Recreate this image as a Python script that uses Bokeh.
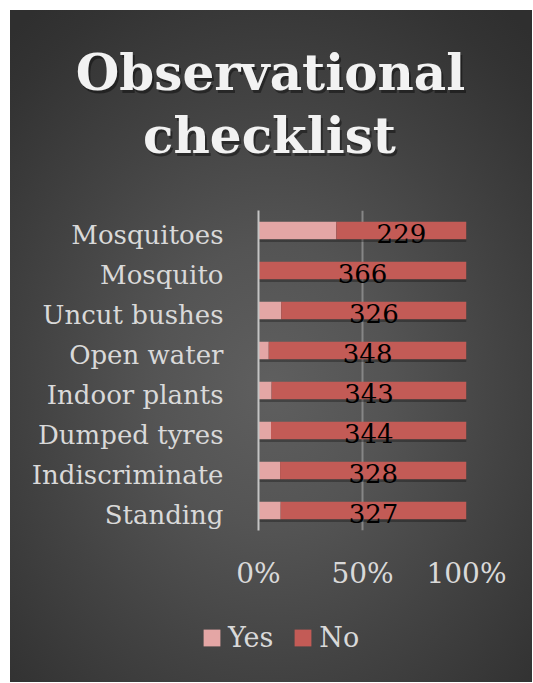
from bokeh.plotting import figure
from bokeh.layouts import column
from bokeh.models import (ColumnDataSource, Range1d, FixedTicker,
                          NumeralTickFormatter)
from bokeh.core.properties import value
from bokeh.embed import file_html
from bokeh.resources import INLINE

# ---- data ----
categories = ["Mosquitoes", "Mosquito", "Uncut bushes", "Open water",
              "Indoor plants", "Dumped tyres", "Indiscriminate", "Standing"]
yes_counts = [137, 0, 40, 18, 23, 22, 38, 39]
no_counts = [229, 366, 326, 348, 343, 344, 328, 327]
tick_values = [0, 0.5, 1]
title_lines = ["Observational", "checklist"]
series_names = ["Yes", "No"]

FONT = "DejaVu Serif"
LIGHT = "#d9d9d9"
YES_COLOR = "#e4a6a5"
NO_COLOR = "#c35b56"
W = 522


def bare(fig):
    fig.background_fill_color = None
    fig.border_fill_color = None
    fig.outline_line_color = None
    fig.axis.visible = False
    fig.grid.grid_line_color = None


# ---------------- title ----------------
TH = 200
t = figure(width=W, height=TH, x_range=Range1d(0, W), y_range=Range1d(TH, 0),
           min_border=0, output_backend="svg", toolbar_location=None)
t.frame_align = False
bare(t)
tx = [260, 259]
ty = [62, 125]
t.text(x=[v + 2 for v in tx], y=[v + 3 for v in ty], text=title_lines,
       text_align="center", text_baseline="alphabetic",
       text_font=value(FONT), text_font_style="bold", text_font_size="50px",
       text_color="black", text_alpha=0.4)
t.text(x=tx, y=ty, text=title_lines, text_align="center",
       text_baseline="alphabetic", text_font=value(FONT),
       text_font_style="bold", text_font_size="50px", text_color="#f2f2f2")

# ---------------- chart ----------------
n_cat = len(categories)
totals = [y + n for y, n in zip(yes_counts, no_counts)]
yes_f = [y / tt for y, tt in zip(yes_counts, totals)]
no_f = [n / tt for n, tt in zip(no_counts, totals)]
lab_x = [(y + n / 2) / tt for y, n, tt in zip(yes_counts, no_counts, totals)]
end_f = [(y + n) / tt for y, n, tt in zip(yes_counts, no_counts, totals)]
ypos = [n_cat - i - 0.5 for i in range(n_cat)]          # row centres
yshadow = [v - 0.07 for v in ypos]
lab_ticks = [v - 0.1 for v in ypos]                     # label anchors
overrides = {tk: name for tk, name in zip(lab_ticks, categories)}

src = ColumnDataSource(dict(cat=categories, y=ypos, ys=yshadow,
                            yes_f=yes_f, no_f=no_f,
                            lab_x=lab_x, end_f=end_f,
                            lab=[str(n) for n in no_counts]))

p = figure(frame_width=208, frame_height=320,
           min_border_left=248, min_border_right=W - 248 - 208,
           min_border_top=0, min_border_bottom=70,
           y_range=Range1d(0, n_cat), x_range=Range1d(0, 1),
           output_backend="svg", toolbar_location=None)
p.frame_align = False
p.background_fill_color = None
p.border_fill_color = None
p.outline_line_color = None

p.ygrid.grid_line_color = None
p.xgrid.ticker = FixedTicker(ticks=tick_values)
p.xgrid.grid_line_color = "#868686"
p.xgrid.grid_line_width = 2

p.xaxis.ticker = FixedTicker(ticks=tick_values)
p.xaxis.formatter = NumeralTickFormatter(format="0%")
p.xaxis.axis_line_color = None
p.xaxis.major_tick_line_color = None
p.xaxis.minor_tick_line_color = None
p.xaxis.major_label_text_font = FONT
p.xaxis.major_label_text_font_size = "28px"
p.xaxis.major_label_text_color = LIGHT
p.xaxis.major_label_standoff = 20

yax = p.yaxis[0]
yax.ticker = FixedTicker(ticks=lab_ticks)
yax.major_label_overrides = overrides
yax.axis_line_color = "#c4c4c4"
yax.axis_line_width = 2
yax.major_tick_line_color = None
yax.minor_tick_line_color = None
yax.major_label_text_font = FONT
yax.major_label_text_font_size = "26px"
yax.major_label_text_color = LIGHT
yax.major_label_standoff = 29

# bar shadow
p.hbar(y="ys", left=0, right="end_f", height=0.44, fill_color="black",
       fill_alpha=0.28, line_color=None, source=src)

# stacked bars
p.hbar_stack(["yes_f", "no_f"], y="y", height=0.44,
             color=[YES_COLOR, NO_COLOR], line_color=None, source=src)

# data labels on "No"
p.text(x="lab_x", y="y", text="lab", source=src, text_align="center",
       text_baseline="middle", text_font=value(FONT), text_font_size="26px",
       text_color="black", y_offset=3)

# ---------------- legend ----------------
LH = 82
lf = figure(width=W, height=LH, x_range=Range1d(0, 1), y_range=Range1d(0, 1),
            min_border=0, output_backend="svg", toolbar_location=None)
lf.frame_align = False
bare(lf)
# swatch-only renderers (their single bar lies outside the visible range)
for name, col in zip(series_names, [YES_COLOR, NO_COLOR]):
    lf.hbar(y=[-5], left=[0], right=[1], height=0.5, color=col,
            line_color=None, legend_label=name)
lg = lf.legend[0]
lg.orientation = "horizontal"
lg.location = (191, 29)
lg.glyph_width = 21
lg.glyph_height = 21
lg.label_text_font = FONT
lg.label_text_font_size = "27px"
lg.label_text_color = LIGHT
lg.background_fill_alpha = 0
lg.border_line_color = None
lg.padding = 0
lg.margin = 0
lg.spacing = 19
lg.label_standoff = 6

layout = column(t, p, lf, spacing=0, styles={
    "background": "radial-gradient(ellipse 75% 70% at 50% 56%, #5f5f5f 0%, #545454 30%, #434343 60%, #333333 90%, #2f2f2f 100%)",
    "margin": "10px 0 0 10px",
})

open("out.html", "w").write(file_html(layout, INLINE))
